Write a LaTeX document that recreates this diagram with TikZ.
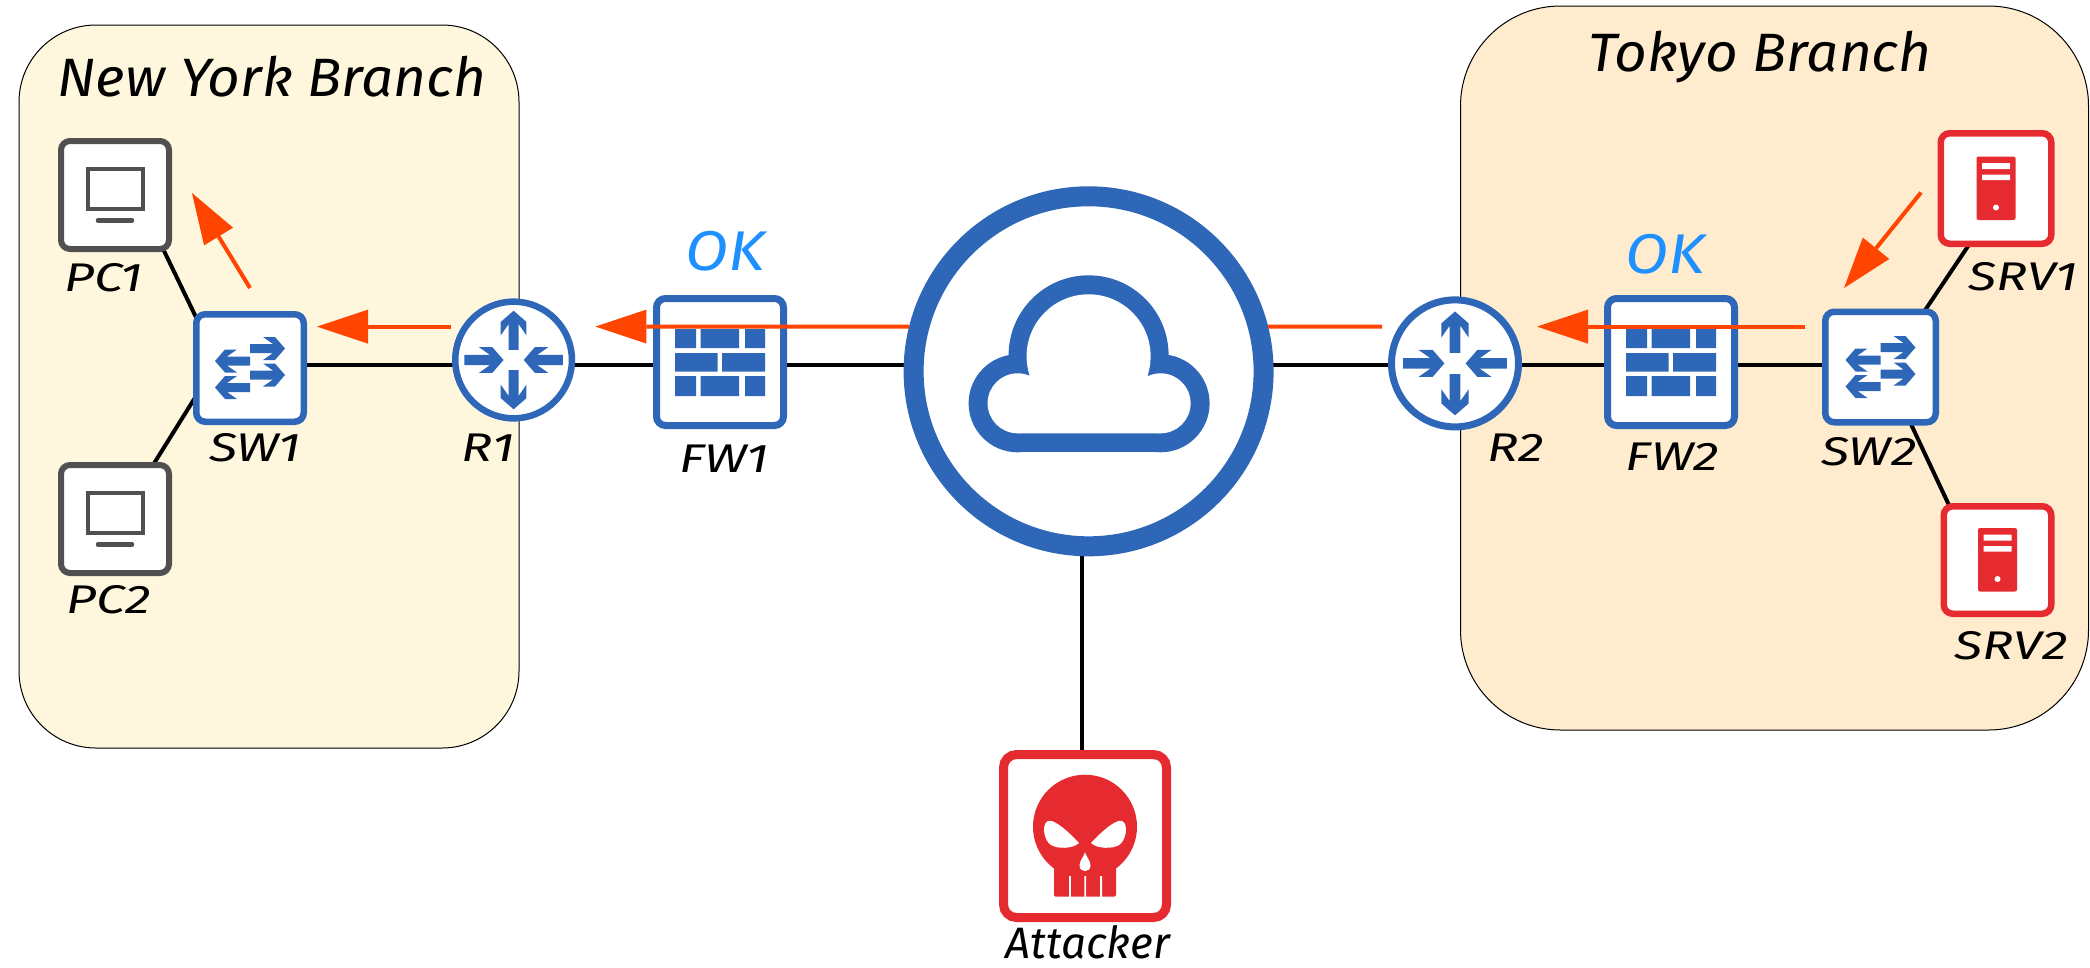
\documentclass[tikz,border=0pt]{standalone}
\usepackage{fontspec}
\setmainfont{Fira Sans}
\newfontfamily\lblfont[FakeStretch=1.3]{Fira Sans}
\newfontfamily\ttlfont[FakeStretch=1.05]{Fira Sans}
\newfontfamily\okfont[FakeStretch=1.12]{Fira Sans}
\usetikzlibrary{arrows.meta}
\definecolor{netblue}{HTML}{2E67B8}
\definecolor{devred}{HTML}{E52A30}
\definecolor{devgrey}{HTML}{505050}
\definecolor{flow}{HTML}{FF4500}
\definecolor{okblue}{HTML}{1E90FF}
\definecolor{nyfill}{HTML}{FFF7DD}
\definecolor{tkfill}{HTML}{FFEBCD}
\pgfdeclarelayer{bg}
\pgfdeclarelayer{wires}
\pgfsetlayers{bg,wires,main}
\newcommand{\chevpath}{(0,-4.5)--(23,-4.5)--(13,-11.5)--(25,-11.5)--(35,0)--(25,11.5)--(13,11.5)--(23,4.5)--(0,4.5)--cycle}
\tikzset{
  branch/.style={draw=black,line width=1pt,rounded corners=#1,inner sep=0pt},
  devbox/.style={draw=#1,fill=white,rounded corners=9pt,inner sep=0pt},
  router/.style={circle,draw=netblue,fill=white,inner sep=0pt},
  link/.style={draw=black,line width=4pt,shorten <=-8pt,shorten >=-8pt},
  flowline/.style={draw=flow,line width=4pt},
  flowarrow/.style={flowline,-{Triangle[length=51pt,width=34pt,line width=0pt]}},
  lbl/.style={anchor=base,inner sep=0pt,font=\fontsize{40}{42}\lblfont\itshape},
  ttl/.style={anchor=base,inner sep=0pt,font=\fontsize{54}{56}\ttlfont\itshape},
  oklbl/.style={anchor=base,inner sep=0pt,text=okblue,font=\fontsize{56}{58}\okfont\itshape},
  pcicon/.pic={
    \draw[devgrey,line width=4pt] (-27.5,-26) rectangle (27.5,14);
    \draw[devgrey,line width=4.5pt,line cap=round] (-17,25.5) -- (17,25.5);
  },
  srvicon/.pic={
    \fill[devred,rounded corners=2pt] (-19.5,-32) rectangle (19.5,31.5);
    \fill[white] (-14,-25.5) rectangle (14,-19.5) (-14,-14) rectangle (14,-8.5);
    \fill[white] (0,19) circle (3);
  },
  swicon/.pic={
    \fill[netblue,shift={(0,-19.5)}] \chevpath;
    \fill[netblue,shift={(0,7)}] \chevpath;
    \fill[netblue,shift={(0,-7)},rotate=180] \chevpath;
    \fill[netblue,shift={(0,19.5)},rotate=180] \chevpath;
  },
  rticon/.pic={
    \fill[netblue,rotate=90,xshift=9pt] \chevpath;
    \fill[netblue,rotate=-90,xshift=9pt] \chevpath;
    \fill[netblue,xshift=-44pt] \chevpath;
    \fill[netblue,rotate=180,xshift=-44pt] \chevpath;
  },
  fwicon/.pic={
    \fill[netblue] (-45,-33) rectangle (-24,-14) (-19.5,-33) rectangle (19,-14) (25,-33) rectangle (45,-14);
    \fill[netblue] (-45,-9) rectangle (-2.5,9.5) (2,-9) rectangle (45,9.5);
    \fill[netblue] (-45,14) rectangle (-24,34) (-19.5,14) rectangle (19,34) (25,14) rectangle (45,34);
  },
  cloudicon/.pic={
    \fill[netblue] (0,-16) circle (80) (-71,32) circle (49) (72,32) circle (49);
    \fill[netblue] (-71,-17) rectangle (72,81);
    \fill[white] (0,-15) circle (62) (-71,32) circle (30) (72,32) circle (30);
    \fill[white] (-71,32) rectangle (72,62) (-58,-15) rectangle (59,62);
  },
  skullicon/.pic={
    \fill[devred] (0,-9.3) circle (52);
    \fill[devred,rounded corners=2pt] (-31,15) rectangle (31,60.7);
    \fill[white] (-15.9,40) rectangle (-14.1,61) (-0.6,40) rectangle (1.2,61) (15.2,40) rectangle (17,61);
    \fill[white] (-37,-15) .. controls (-32,-17) and (-20,-8) .. (-6,7)
      .. controls (-12,13) and (-28,13) .. (-34,9)
      .. controls (-41,5) and (-44,-12) .. (-37,-15) -- cycle;
    \fill[white] (37,-15) .. controls (32,-17) and (20,-8) .. (6,7)
      .. controls (12,13) and (28,13) .. (34,9)
      .. controls (41,5) and (44,-12) .. (37,-15) -- cycle;
    \fill[white] (0,16.3) .. controls (2,22) and (5.5,25) .. (5.5,29.5)
      .. controls (5.5,37) and (-5.5,37) .. (-5.5,29.5)
      .. controls (-5.5,25) and (-2,22) .. (0,16.3) -- cycle;
  },
}
\begin{document}
\begin{tikzpicture}[x=1pt,y=-1pt]
\useasboundingbox (0,0) rectangle (2090,967);
% branches
\begin{pgfonlayer}{bg}
\fill[white] (0,0) rectangle (2090,967);
\node[branch=77pt,fill=nyfill,minimum width=500pt,minimum height=723pt] (ny) at (269,386.5) {};
\node[branch=100pt,fill=tkfill,minimum width=628pt,minimum height=724pt] (tk) at (1774.5,368) {};
\end{pgfonlayer}
\node[ttl] (nyt) at (272,96) {New York Branch};
\node[ttl] (tkt) at (1760,71) {Tokyo Branch};
% devices
\node[devbox=devgrey,line width=6pt,minimum width=108pt,minimum height=108pt] (pc1) at (115,195) {};
\node[devbox=devgrey,line width=6pt,minimum width=108pt,minimum height=108pt] (pc2) at (115,519) {};
\node[devbox=netblue,line width=6.5pt,minimum width=107.5pt,minimum height=107.5pt] (sw1) at (250,368) {};
\node[router,line width=6.5pt,minimum size=116.7pt] (r1) at (513.6,360) {};
\node[devbox=netblue,line width=7pt,minimum width=127pt,minimum height=127pt] (fw1) at (720,362) {};
\node[circle,draw=netblue,fill=white,line width=20pt,minimum size=350pt,inner sep=0pt] (cloud) at (1088.6,371.3) {};
\node[router,line width=7pt,minimum size=127pt] (r2) at (1455,363.4) {};
\node[devbox=netblue,line width=7pt,minimum width=127pt,minimum height=127pt] (fw2) at (1671,362) {};
\node[devbox=netblue,line width=6.5pt,minimum width=110.5pt,minimum height=110.5pt] (sw2) at (1880.5,367) {};
\node[devbox=devred,line width=6.5pt,minimum width=110.5pt,minimum height=110.5pt] (srv1) at (1996,188.5) {};
\node[devbox=devred,line width=6.5pt,minimum width=107.5pt,minimum height=107.5pt] (srv2) at (1997.5,560) {};
\node[devbox=devred,line width=9pt,rounded corners=13pt,minimum width=163pt,minimum height=163pt] (atk) at (1085,836) {};
% icons
\pic at (pc1) {pcicon};
\pic at (pc2) {pcicon};
\pic at (sw1) {swicon};
\pic at (sw2) {swicon};
\pic[scale=1.12] at (r1) {rticon};
\pic[scale=1.18] at (r2) {rticon};
\pic at (fw1) {fwicon};
\pic at (fw2) {fwicon};
\pic at (cloud) {cloudicon};
\pic at (srv1) {srvicon};
\pic at (srv2) {srvicon};
\pic at (atk) {skullicon};
% wires
\coordinate (bus) at (0,365);
\coordinate (atkx) at (1082,0);
\begin{pgfonlayer}{wires}
\draw[link] (pc1.-49) -- (sw1.135.5);
\draw[link] (pc2.55.9) -- (sw1.210.8);
\draw[link] (sw1.center |- bus) -- (r1.center |- bus);
\draw[link] (r1.center |- bus) -- (fw1.center |- bus);
\draw[link] (fw1.center |- bus) -- (cloud.center |- bus);
\draw[link] (cloud.center |- bus) -- (r2.center |- bus);
\draw[link] (r2.center |- bus) -- (fw2.center |- bus);
\draw[link] (fw2.center |- bus) -- (sw2.center |- bus);
\draw[link] (sw2.52.4) -- (srv1.244.7);
\draw[link] (sw2.-62.2) -- (srv2.131.3);
\draw[link] (cloud.south -| atkx) -- (atk.north -| atkx);
\end{pgfonlayer}
% labels
\node[lbl] (lpc1) at (103.5,291) {PC1};
\node[lbl] (lpc2) at (109,613.5) {PC2};
\node[lbl] (lsw1) at (255,461) {SW1};
\node[lbl] (lr1) at (488,461) {R1};
\node[lbl] (lfw1) at (724,472) {FW1};
\node[oklbl] (ok1) at (725.5,270) {OK};
\node[oklbl] (ok2) at (1665,273.7) {OK};
\node[lbl] (lr2) at (1515.5,461) {R2};
\node[lbl] (lfw2) at (1672.5,470.5) {FW2};
\node[lbl] (lsw2) at (1869,465) {SW2};
\node[lbl] (lsrv1) at (2023,290) {SRV1};
\node[lbl] (lsrv2) at (2011,659.7) {SRV2};
\node[anchor=base,inner sep=0pt,font=\fontsize{44}{46}\selectfont\itshape] (latk) at (1088,958) {Attacker};
% traffic arrows
\coordinate (f1a) at (250,288);
\coordinate (f1b) at (192,193);
\coordinate (f2a) at (451,326.6);
\coordinate (f2b) at (317,326.6);
\coordinate (f3b) at (595.4,326.6);
\coordinate (f4b) at (1382,326.6);
\coordinate (f5a) at (1804.6,326.6);
\coordinate (f5b) at (1537,326.6);
\coordinate (f6a) at (1921,192.5);
\coordinate (f6b) at (1844,288);
\draw[flowarrow] (f1a) -- (f1b);
\draw[flowarrow] (f2a) -- (f2b);
\draw[flowarrow] (cloud.166) -- (f3b);
\draw[flowline] (cloud.14) -- (f4b);
\draw[flowarrow] (f5a) -- (f5b);
\draw[flowarrow] (f6a) -- (f6b);
\end{tikzpicture}
\end{document}
